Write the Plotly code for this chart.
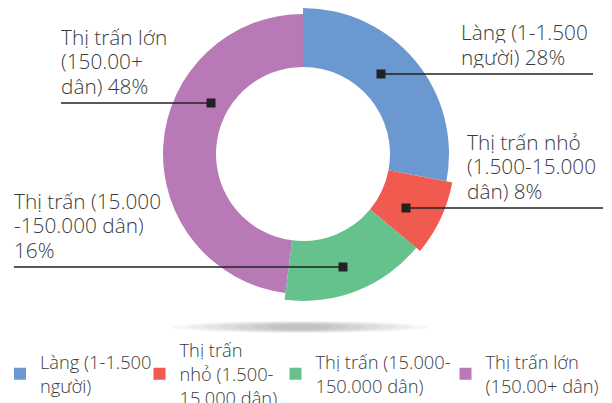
import plotly.graph_objects as go

# ---------------- data ----------------
categories = [
    "Làng (1-1.500 người)",
    "Thị trấn nhỏ (1.500-15.000 dân)",
    "Thị trấn (15.000-150.000 dân)",
    "Thị trấn lớn (150.00+ dân)",
]
values = [28, 8, 16, 48]
legend_text = [
    "Làng (1-1.500<br>người)",
    "Thị trấn<br>nhỏ (1.500-<br>15.000 dân)",
    "Thị trấn (15.000-<br>150.000 dân)",
    "Thị trấn lớn<br>(150.00+ dân)",
]
callout_text = [
    ["Làng (1-1.500", "người) {p}%"],
    ["Thị trấn nhỏ", "(1.500-15.000", "dân) {p}%"],
    ["Thị trấn (15.000", "-150.000 dân)", "{p}%"],
    ["Thị trấn lớn", "(150.00+", "dân) {p}%"],
]

# ---------------- style ----------------
W, H = 612, 403
CX, CY = 303, 154          # donut centre (px)
R_PX = 154                 # polar radius (px) == radial range
INNER = 87
OUTER = [146, 152, 147, 140]
COLORS = ["#6b98d0", "#f05a4f", "#66c28c", "#b87ab6"]
TEXT_COLOR = "#3b3b3b"
FONT = "Open Sans"
LABEL_SIZE = 20.8
LINE_GAP = 24.8
LEGEND_SIZE = 18.3
CALLOUTS = [
    dict(sx=381, sy=74, lx=593, tx=459),
    dict(sx=406, sy=208, lx=603, tx=465),
    dict(sx=343, sy=267, lx=14, tx=12),
    dict(sx=211, sy=103, lx=61, tx=59),
]
LEGEND_CX = [22, 161.5, 297.5, 467.5]
LEGEND_CY = 374


def px(x):
    return x / W


def py(y):
    return (H - y) / H


fig = go.Figure()

total = sum(values)
cum = 0
legend_ids = ["legend", "legend2", "legend3", "legend4"]
for i, v in enumerate(values):
    theta_c = (cum + v / 2) * 360 / total
    width = v * 360 / total
    cum += v
    fig.add_trace(go.Barpolar(
        r=[OUTER[i] - INNER], base=[INNER], theta=[theta_c], width=[width],
        marker=dict(color=COLORS[i], line=dict(width=0)),
        name=legend_text[i], legend=legend_ids[i], hovertext=[categories[i]],
        hoverinfo="text", showlegend=True,
    ))

shapes = []
# soft shadow under the donut
for k in range(7):
    rx = 128 - k * 16
    ry = 6 - k * 0.5
    shapes.append(dict(type="circle", xref="paper", yref="paper", layer="below",
                       x0=px(300 - rx), x1=px(300 + rx), y0=py(327 + ry), y1=py(327 - ry),
                       fillcolor="rgba(0,0,0,0.035)", line=dict(width=0)))
for c in CALLOUTS:
    shapes.append(dict(type="line", xref="paper", yref="paper",
                       x0=px(c["sx"]), x1=px(c["lx"]), y0=py(c["sy"]), y1=py(c["sy"]),
                       line=dict(color="#222222", width=1.6)))
    shapes.append(dict(type="rect", xref="paper", yref="paper",
                       x0=px(c["sx"] - 4.5), x1=px(c["sx"] + 4.5),
                       y0=py(c["sy"] + 4.5), y1=py(c["sy"] - 4.5),
                       fillcolor="#222222", line=dict(width=0)))

annotations = []
for i, c in enumerate(CALLOUTS):
    lines = [t.format(p=values[i]) for t in callout_text[i]]
    n = len(lines)
    last_base = c["sy"] - 9.5
    for k, t in enumerate(lines):
        base = last_base - (n - 1 - k) * LINE_GAP
        annotations.append(dict(
            x=px(c["tx"]), y=py(base - 0.35 * LABEL_SIZE), xref="paper", yref="paper",
            xanchor="left", yanchor="middle", text=t, showarrow=False,
            height=22, valign="middle",
            font=dict(family=FONT, size=LABEL_SIZE, color=TEXT_COLOR, weight=300),
        ))

legend_common = dict(
    xanchor="left", yanchor="middle", valign="middle", bgcolor="rgba(0,0,0,0)",
    borderwidth=0, itemwidth=30, visible=True,
    font=dict(family=FONT, size=LEGEND_SIZE, color=TEXT_COLOR, weight=300),
)
legends = {}
for i, lid in enumerate(legend_ids):
    legends[lid] = dict(legend_common, x=max(0, px(LEGEND_CX[i] - 22)), y=py(LEGEND_CY))

fig.update_layout(
    width=W, height=H, margin=dict(l=0, r=0, t=0, b=0, autoexpand=False),
    showlegend=True,
    paper_bgcolor="white", plot_bgcolor="rgba(0,0,0,0)",
    polar=dict(
        domain=dict(x=[px(CX - R_PX), px(CX + R_PX)],
                    y=[max(0, py(CY + R_PX)), min(1, py(CY - R_PX))]),
        bgcolor="rgba(0,0,0,0)",
        radialaxis=dict(range=[0, R_PX], visible=False),
        angularaxis=dict(rotation=90, direction="clockwise", visible=False),
    ),
    shapes=shapes, annotations=annotations,
    **legends,
)

page_fix = (
    "document.documentElement.style.overflow='hidden';"
    "document.body.style.margin='0px';"
    "document.body.style.overflow='hidden';"
)
fig.write_html("out.html", config={"displayModeBar": False}, post_script=page_fix)
